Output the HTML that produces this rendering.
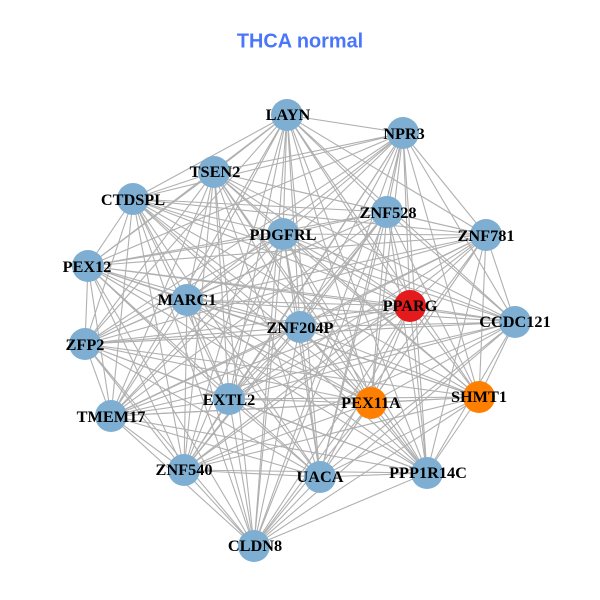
<!DOCTYPE html>
<html><head><meta charset="utf-8"><style>
html,body{margin:0;padding:0;background:#fff}
svg{display:block}
.e{fill:none;stroke:#b0b0b0;stroke-width:1.1;stroke-linejoin:bevel}
.l{font:bold 16.3px "Liberation Serif",serif;text-anchor:middle;fill:#000}
</style></head><body>
<svg width="600" height="600" viewBox="0 0 600 600" xmlns="http://www.w3.org/2000/svg">
<rect width="600" height="600" fill="#fff"/>
<path class="e" d="M287 115 403 133 287 115 214 172 287 115 133 199 287 115 387 212 287 115 486 235 287 115 283 234 287 115 88 266 287 115 187 300 287 115 410 306 287 115 515 322 287 115 300 327 287 115 85 344 287 115 229 399 287 115 371 403 287 115 479 397 287 115 111 416 287 115 184 470 287 115 320 477 287 115 427 473 287 115 254 546"/>
<path class="e" d="M403 133 214 172 403 133 133 199 403 133 387 212 403 133 486 235 403 133 283 234 403 133 88 266 403 133 187 300 403 133 410 306 403 133 515 322 403 133 300 327 403 133 85 344 403 133 229 399 403 133 371 403 403 133 479 397 403 133 111 416 403 133 184 470 403 133 320 477 403 133 427 473 403 133 254 546"/>
<path class="e" d="M214 172 133 199 214 172 387 212 214 172 486 235 214 172 283 234 214 172 88 266 214 172 187 300 214 172 410 306 214 172 515 322 214 172 300 327 214 172 85 344 214 172 229 399 214 172 371 403 214 172 479 397 214 172 111 416 214 172 184 470 214 172 320 477 214 172 427 473 214 172 254 546"/>
<path class="e" d="M133 199 387 212 133 199 486 235 133 199 283 234 133 199 88 266 133 199 187 300 133 199 410 306 133 199 515 322 133 199 300 327 133 199 85 344 133 199 229 399 133 199 371 403 133 199 479 397 133 199 111 416 133 199 184 470 133 199 320 477 133 199 427 473 133 199 254 546"/>
<path class="e" d="M387 212 486 235 387 212 283 234 387 212 88 266 387 212 187 300 387 212 410 306 387 212 515 322 387 212 300 327 387 212 85 344 387 212 229 399 387 212 371 403 387 212 479 397 387 212 111 416 387 212 184 470 387 212 320 477 387 212 427 473 387 212 254 546"/>
<path class="e" d="M486 235 283 234 486 235 88 266 486 235 187 300 486 235 410 306 486 235 515 322 486 235 300 327 486 235 85 344 486 235 229 399 486 235 371 403 486 235 479 397 486 235 111 416 486 235 184 470 486 235 320 477 486 235 427 473 486 235 254 546"/>
<path class="e" d="M283 234 88 266 283 234 187 300 283 234 410 306 283 234 515 322 283 234 300 327 283 234 85 344 283 234 229 399 283 234 371 403 283 234 479 397 283 234 111 416 283 234 184 470 283 234 320 477 283 234 427 473 283 234 254 546"/>
<path class="e" d="M88 266 187 300 88 266 410 306 88 266 515 322 88 266 300 327 88 266 85 344 88 266 229 399 88 266 371 403 88 266 479 397 88 266 111 416 88 266 184 470 88 266 320 477 88 266 427 473 88 266 254 546"/>
<path class="e" d="M187 300 410 306 187 300 515 322 187 300 300 327 187 300 85 344 187 300 229 399 187 300 371 403 187 300 479 397 187 300 111 416 187 300 184 470 187 300 320 477 187 300 427 473 187 300 254 546"/>
<path class="e" d="M410 306 515 322 410 306 300 327 410 306 85 344 410 306 229 399 410 306 371 403 410 306 479 397 410 306 111 416 410 306 184 470 410 306 320 477 410 306 427 473 410 306 254 546"/>
<path class="e" d="M515 322 300 327 515 322 85 344 515 322 229 399 515 322 371 403 515 322 479 397 515 322 111 416 515 322 184 470 515 322 320 477 515 322 427 473 515 322 254 546"/>
<path class="e" d="M300 327 85 344 300 327 229 399 300 327 371 403 300 327 479 397 300 327 111 416 300 327 184 470 300 327 320 477 300 327 427 473 300 327 254 546"/>
<path class="e" d="M85 344 229 399 85 344 371 403 85 344 479 397 85 344 111 416 85 344 184 470 85 344 320 477 85 344 427 473 85 344 254 546"/>
<path class="e" d="M229 399 371 403 229 399 479 397 229 399 111 416 229 399 184 470 229 399 320 477 229 399 427 473 229 399 254 546"/>
<path class="e" d="M371 403 479 397 371 403 111 416 371 403 184 470 371 403 320 477 371 403 427 473 371 403 254 546"/>
<path class="e" d="M479 397 111 416 479 397 184 470 479 397 320 477 479 397 427 473 479 397 254 546"/>
<path class="e" d="M111 416 184 470 111 416 320 477 111 416 427 473 111 416 254 546"/>
<path class="e" d="M184 470 320 477 184 470 427 473 184 470 254 546"/>
<path class="e" d="M320 477 427 473 320 477 254 546"/>
<path class="e" d="M427 473 254 546"/>
<g fill="#7eafd2">
<circle cx="287" cy="115" r="16"/><circle cx="403" cy="133" r="16"/><circle cx="214" cy="172" r="16"/><circle cx="133" cy="199" r="16"/><circle cx="387" cy="212" r="16"/><circle cx="486" cy="235" r="16"/><circle cx="283" cy="234" r="16"/><circle cx="88" cy="266" r="16"/><circle cx="187" cy="300" r="16"/><circle cx="515" cy="322" r="16"/><circle cx="300" cy="327" r="16"/><circle cx="85" cy="344" r="16"/><circle cx="229" cy="399" r="16"/><circle cx="111" cy="416" r="16"/><circle cx="184" cy="470" r="16"/><circle cx="320" cy="477" r="16"/><circle cx="427" cy="473" r="16"/><circle cx="254" cy="546" r="16"/>
</g>
<circle cx="410" cy="306" r="16" fill="#e41a1c"/>
<circle cx="371" cy="403" r="16" fill="#ff7f00"/>
<circle cx="479" cy="397" r="16" fill="#ff7f00"/>
<text class="l" x="288" y="120">LAYN</text>
<text class="l" x="404" y="139">NPR3</text>
<text class="l" x="215" y="177">TSEN2</text>
<text class="l" x="133" y="205">CTDSPL</text>
<text class="l" x="388" y="218">ZNF528</text>
<text class="l" x="486" y="241">ZNF781</text>
<text class="l" x="283" y="240">PDGFRL</text>
<text class="l" x="87" y="272">PEX12</text>
<text class="l" x="187" y="305">MARC1</text>
<text class="l" x="410" y="311">PPARG</text>
<text class="l" x="515" y="327">CCDC121</text>
<text class="l" x="300" y="333">ZNF204P</text>
<text class="l" x="85" y="350">ZFP2</text>
<text class="l" x="229" y="405">EXTL2</text>
<text class="l" x="371" y="408">PEX11A</text>
<text class="l" x="479" y="402">SHMT1</text>
<text class="l" x="111" y="422">TMEM17</text>
<text class="l" x="184" y="475">ZNF540</text>
<text class="l" x="320" y="482">UACA</text>
<text class="l" x="428" y="478">PPP1R14C</text>
<text class="l" x="255" y="551">CLDN8</text>
<text x="300" y="47.5" text-anchor="middle" font-family="Liberation Sans, sans-serif" font-weight="bold" font-size="19.9" fill="#4a76fb">THCA normal</text>
</svg>
</body></html>
